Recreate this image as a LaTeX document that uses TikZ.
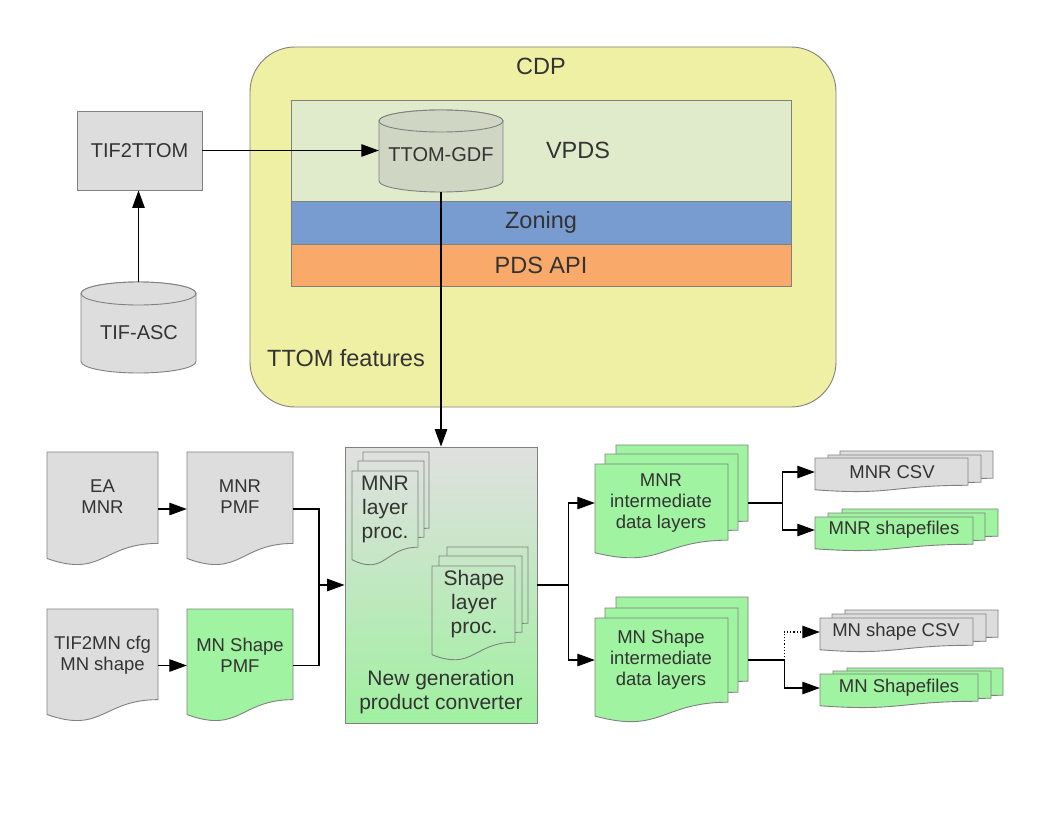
\documentclass[tikz,border=0pt]{standalone}
\usepackage{fontspec}
\setmainfont{Liberation Sans}
\usetikzlibrary{arrows.meta,fit}
\definecolor{linec}{HTML}{808080}
\definecolor{txtc}{HTML}{333333}
\definecolor{cdpc}{HTML}{F0F0A5}
\definecolor{vpdsc}{HTML}{E0EBCC}
\definecolor{zonc}{HTML}{789BD0}
\definecolor{pdsc}{HTML}{F9AA6A}
\definecolor{gdfc}{HTML}{D0D6C4}
\definecolor{greyc}{HTML}{DDDDDD}
\definecolor{greenc}{HTML}{A0F3A0}
\definecolor{convtop}{HTML}{E0E0E0}
\definecolor{convbot}{HTML}{A0F0A0}
% document shape: name, x0, y0, x1, y1, style
\newcommand\docshp[6]{%
  \path[#6] (#2,#3) -- (#4,#3) -- (#4,{#3+0.802*(#5-#3)})
    .. controls ({(#2+#4)/2},{#3+0.802*(#5-#3)}) and ({(#2+#4)/2},{#3+1.107*(#5-#3)})
    .. (#2,{#3+0.934*(#5-#3)}) -- cycle;
  \node[fit={(#2,#3) (#4,#5)}, inner sep=0pt] (#1) {};}
% cylinder: name, x0, ytop, x1, ybot, ry, style
\newcommand\cylshp[7]{%
  \path[#7] (#2,{#3+#6}) -- (#2,{#5-#6})
    arc[start angle=180, end angle=0, x radius={(#4-#2)/2}, y radius=#6]
    -- (#4,{#3+#6})
    arc[start angle=0, end angle=-180, x radius={(#4-#2)/2}, y radius=#6] -- cycle;
  \path[#7] ({(#2+#4)/2},{#3+#6}) ellipse [x radius={(#4-#2)/2}, y radius=#6];
  \node[fit={(#2,#3) (#4,#5)}, inner sep=0pt] (#1) {};}
\begin{document}
\begin{tikzpicture}[x=1pt,y=-1pt,
  outl/.style={draw=linec, line width=0.9pt},
  greydoc/.style={outl, fill=greyc},
  greendoc/.style={outl, fill=greenc},
  convdoc/.style={outl, path picture={\shade[top color=convtop,bottom color=convbot] (conv.north west) rectangle (conv.south east);}},
  cylgdf/.style={outl, fill=gdfc},
  cylgrey/.style={outl, fill=greyc},
  tbig/.style={text=txtc, inner sep=0pt, align=center, font=\fontsize{23.5}{27}\selectfont},
  tmid/.style={text=txtc, inner sep=0pt, align=center, font=\fontsize{20}{23}\selectfont},
  tsmall/.style={text=txtc, inner sep=0pt, align=center, font=\fontsize{18.5}{21}\selectfont},
  tconv/.style={text=txtc, inner sep=0pt, align=center, font=\fontsize{21}{24}\selectfont},
  conn/.style={draw=black, line width=1.1pt},
  arr/.style={conn, -{Triangle[length=17.5pt, width=12.5pt]}}
]
\fill[white] (0,0) rectangle (1056,816);
\useasboundingbox (0,0) rectangle (1056,816);

% ---------- CDP ----------
\node[outl, fill=cdpc, rounded corners=45pt, minimum width=586, minimum height=360] (cdp) at (543,227) {};
\node[tbig] (cdp-t) at (541,66) {CDP};
\node[tbig] (feat-t) at (346,358) {TTOM features};
\node[outl, fill=vpdsc, minimum width=500, minimum height=101] (vpds) at (541,150.5) {};
\node[tbig] (vpds-t) at (578,150) {VPDS};
\node[outl, fill=zonc, minimum width=500, minimum height=43, tbig] (zon) at (541,222.5) {Zoning};
\node[outl, fill=pdsc, minimum width=500, minimum height=42, tbig] (pds) at (541,265) {PDS API};
\cylshp{ttomgdf}{379}{110}{503}{192}{11}{cylgdf}
\node[tmid] (ttomgdf-t) at (441,155) {TTOM-GDF};

% ---------- left top ----------
\node[outl, fill=greyc, minimum width=125, minimum height=79, tmid] (tif2ttom) at (139.5,150.5) {TIF2TTOM};
\cylshp{tifasc}{81}{282}{196}{373}{11.5}{cylgrey}
\node[tmid] (tifasc-t) at (139,333) {TIF-ASC};

% ---------- converter ----------
\node[outl, top color=convtop, bottom color=convbot, minimum width=192, minimum height=276] (conv) at (441,585) {};
\docshp{mlp-b}{363}{452}{429}{547}{convdoc}
\docshp{mlp-m}{358}{461}{424}{556}{convdoc}
\docshp{mlp-f}{352}{471}{418}{566}{convdoc}
\node[tconv] (mlp-t) at (385,509) {MNR\\layer\\proc.};
\docshp{slp-b}{447}{547}{528}{642}{convdoc}
\docshp{slp-m}{439}{556}{522}{651}{convdoc}
\docshp{slp-f}{432}{566}{515}{661}{convdoc}
\node[tconv] (slp-t) at (474,604) {Shape\\layer\\proc.};
\node[tconv] (conv-t) at (441,692) {New generation\\product converter};

% ---------- left docs ----------
\docshp{eamnr}{47}{452}{158}{566}{greydoc}
\node[tsmall] (eamnr-t) at (102.5,497) {EA\\MNR};
\docshp{mnrpmf}{187}{452}{293}{566}{greydoc}
\node[tsmall] (mnrpmf-t) at (240,497) {MNR\\PMF};
\docshp{tif2mn}{47}{609}{158}{722}{greydoc}
\node[tsmall] (tif2mn-t) at (102.5,655) {TIF2MN cfg\\MN shape};
\docshp{mnshp}{187}{609}{293}{722}{greendoc}
\node[tsmall] (mnshp-t) at (240,655.5) {MN Shape\\PMF};

% ---------- intermediate stacks ----------
\docshp{mnrint-b}{616}{445}{748}{540}{greendoc}
\docshp{mnrint-m}{605}{454}{738}{549}{greendoc}
\docshp{mnrint-f}{595}{464}{728}{559}{greendoc}
\node[tsmall] (mnrint-t) at (661,503) {MNR\\intermediate\\data layers};
\docshp{mnsint-b}{616}{597}{748}{702}{greendoc}
\docshp{mnsint-m}{605}{608}{738}{713}{greendoc}
\docshp{mnsint-f}{595}{618}{728}{723}{greendoc}
\node[tsmall] (mnsint-t) at (661,660) {MN Shape\\intermediate\\data layers};

% ---------- output stacks ----------
\docshp{mnrcsv-b}{840}{451}{993}{485}{greydoc}
\docshp{mnrcsv-m}{828}{455}{981}{489}{greydoc}
\docshp{mnrcsv-f}{815}{458}{968}{492}{greydoc}
\node[tsmall] (mnrcsv-t) at (892,472) {MNR CSV};
\docshp{mnrshp-b}{842}{509}{998}{543}{greendoc}
\docshp{mnrshp-m}{828}{513}{985}{547}{greendoc}
\docshp{mnrshp-f}{815}{517}{973}{551}{greendoc}
\node[tsmall] (mnrshp-t) at (894,530) {MNR shapefiles};
\docshp{mnscsv-b}{845}{610}{998}{644}{greydoc}
\docshp{mnscsv-m}{832}{614}{986}{648}{greydoc}
\docshp{mnscsv-f}{820}{618}{973}{652}{greydoc}
\node[tsmall] (mnscsv-t) at (896,632) {MN shape CSV};
\docshp{mnsshp-b}{847}{668}{1003}{702}{greendoc}
\docshp{mnsshp-m}{833}{671}{991}{705}{greendoc}
\docshp{mnsshp-f}{820}{674}{978}{708}{greendoc}
\node[tsmall] (mnsshp-t) at (899,688) {MN Shapefiles};

% ---------- connectors ----------
\draw[arr] (tifasc.north) -- (tifasc.north |- tif2ttom.south);
\draw[arr] (tif2ttom.east) -- (tif2ttom.east -| ttomgdf.west);
\draw[arr] (ttomgdf.south) -- (conv.north);

\draw[arr] (eamnr.east) -- (mnrpmf.west);
\draw[arr] (tif2mn.east) -- (mnshp.west);
\coordinate (jl) at (319,585);
\draw[conn] (mnrpmf.east) -| (jl);
\draw[conn] (mnshp.east) -| (jl);
\draw[arr] (jl) -- (conv.west);

\draw[conn] (conv.east) -- ++(31,0) coordinate (br1);
\draw[arr] (br1) |- (mnrint-f.west |- mnrint-t);
\draw[arr] (br1) |- (mnsint-f.west |- mnsint-t);

\draw[conn] (mnrint-b.east |- mnrint-t) -- ++(34,0) coordinate (br2);
\draw[arr] (br2) |- (mnrcsv-f.west |- mnrcsv-t);
\draw[arr] (br2) |- (mnrshp-f.west |- mnrshp-t);

\draw[conn] (mnsint-b.east |- mnsint-t) -- ++(36,0) coordinate (br3);
\draw[arr, dotted] (br3) |- (mnscsv-f.west |- mnscsv-t);
\draw[arr] (br3) |- (mnsshp-f.west |- mnsshp-t);
\end{tikzpicture}
\end{document}
